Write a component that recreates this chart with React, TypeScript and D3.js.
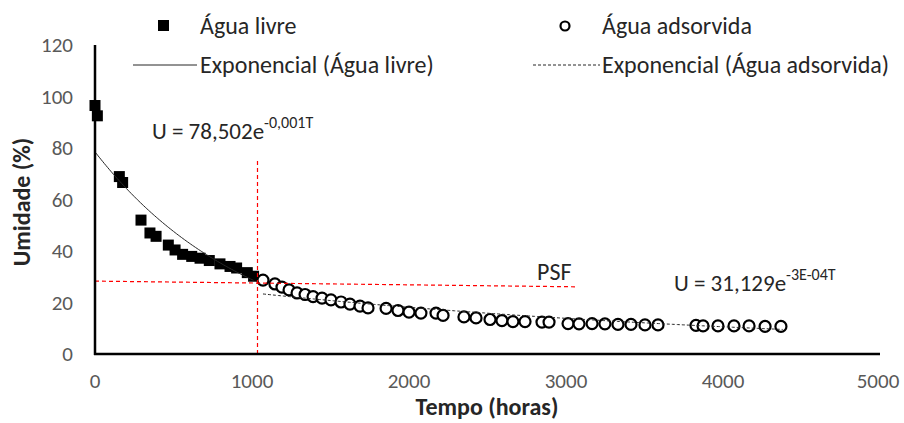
import React from "react";
import * as d3 from "d3";

const W = 904;
const H = 423;

// Água livre (squares)
const livreT = [0, 15, 155, 176, 293, 350, 389, 467, 510, 558, 616, 669, 728, 796, 860, 902, 970, 1010];
const livreU = [96.5, 92.5, 68.9, 66.6, 52.0, 47.0, 45.7, 42.3, 40.4, 38.7, 37.9, 37.2, 36.3, 35.0, 34.0, 33.4, 31.6, 30.2];

// Água adsorvida (open circles)
const adsT = [
  1070, 1146, 1191, 1236, 1287, 1338, 1389, 1446, 1503, 1567, 1624, 1688, 1739, 1854, 1930, 2000,
  2076, 2172, 2217, 2350, 2427, 2516, 2592, 2662, 2739, 2847, 2892, 3013, 3083, 3166, 3248, 3331,
  3414, 3503, 3586, 3828, 3873, 3968, 4070, 4166, 4268, 4369,
];
const adsU = [
  28.7, 27.2, 26.0, 24.9, 23.7, 23.1, 22.3, 21.7, 21.0, 20.2, 19.4, 18.6, 17.9, 17.7, 16.9, 16.3,
  15.9, 15.9, 15.0, 14.4, 14.0, 13.4, 13.0, 12.6, 12.6, 12.4, 12.4, 11.8, 11.7, 11.8, 11.7, 11.5,
  11.5, 11.3, 11.3, 11.1, 10.9, 10.9, 10.9, 10.9, 10.7, 10.7,
];

const xTicks = [0, 1000, 2000, 3000, 4000, 5000];
const yTicks = [0, 20, 40, 60, 80, 100, 120];

// trendlines (as shown on the chart)
const fitLivre = { a: 78.502, k: 0.001, from: 0, to: 1010 };
const fitAds = { a: 31.129, k: 0.00027, from: 1070, to: 4380 };

// PSF guide lines
const psfT = [0, 3060];
const psfU = [28.3, 26.1];
const psfVertT = 1035;
const psfVertU = [0, 75];

const FONT = "Calibri, Carlito, 'Open Sans', sans-serif";
const TXT = "#262626";

export default function App() {
  const x = d3.scaleLinear().domain([0, 5000]).range([95, 880]);
  const y = d3.scaleLinear().domain([0, 120]).range([354, 45]);

  const line = d3
    .line<[number, number]>()
    .x((d) => x(d[0]))
    .y((d) => y(d[1]));

  const curve = (f: { a: number; k: number; from: number; to: number }) =>
    line(d3.range(f.from, f.to + 1, 10).map((t) => [t, f.a * Math.exp(-f.k * t)] as [number, number]));

  const vx = Math.round(x(psfVertT)) + 0.5;

  return (
    <div style={{ position: "fixed", left: 0, top: 0, width: W, height: H, background: "#fff" }}>
      <svg width={W} height={H} style={{ display: "block" }} fontFamily={FONT}>
        {/* y tick labels */}
        {yTicks.map((t) => (
          <text key={t} x={73} y={y(t)} dy="0.35em" textAnchor="end" fontSize={21} fill="#595959">
            {t}
          </text>
        ))}
        {/* x tick labels */}
        {xTicks.map((t) => (
          <text key={t} x={t === 5000 ? x(t) - 2 : x(t)} y={381} dy="0.35em" textAnchor="middle" fontSize={21} fill="#595959">
            {t}
          </text>
        ))}

        {/* markers */}
        {livreT.map((t, i) => (
          <rect key={"l" + i} x={x(t) - 5.5} y={y(livreU[i]) - 5.5} width={11} height={11} fill="#000" />
        ))}
        {adsT.map((t, i) => (
          <circle key={"a" + i} cx={x(t)} cy={y(adsU[i])} r={5.5} fill="#fff" stroke="#000" strokeWidth={2.2} />
        ))}

        {/* trendlines */}
        <path d={curve(fitLivre) || ""} fill="none" stroke={TXT} strokeWidth={1} />
        <path d={curve(fitAds) || ""} fill="none" stroke={TXT} strokeWidth={1} strokeDasharray="3,2" />

        {/* PSF lines */}
        <line x1={x(psfT[0])} y1={y(psfU[0])} x2={x(psfT[1])} y2={y(psfU[1])} stroke="#ff0000" strokeWidth={1.2} strokeDasharray="4,3" />
        <line x1={vx} y1={y(psfVertU[0])} x2={vx} y2={y(psfVertU[1])} stroke="#ff0000" strokeWidth={1.2} strokeDasharray="4,3" />
        <text x={537} y={272} dy="0.35em" fontSize={24} fill={TXT}>PSF</text>

        {/* axes */}
        <line x1={95} y1={y(120)} x2={95} y2={355} stroke="#000" strokeWidth={2.5} />
        <line x1={94} y1={354} x2={880} y2={354} stroke="#000" strokeWidth={2.5} />

        {/* equations */}
        <text x={152} y={131} dy="0.35em" fontSize={23} fill={TXT}>
          U = 78,502e<tspan fontSize={16} dy="-0.7em">-0,001T</tspan>
        </text>
        <text x={674} y={283} dy="0.35em" fontSize={23} fill={TXT}>
          U = 31,129e<tspan fontSize={16} dy="-0.7em">-3E-04T</tspan>
        </text>

        {/* legend */}
        <rect x={158} y={20} width={11} height={11} fill="#000" />
        <text x={200} y={26} dy="0.35em" fontSize={24} fill={TXT}>Água livre</text>
        <circle cx={565} cy={26} r={4.5} fill="#fff" stroke="#000" strokeWidth={2.2} />
        <text x={602} y={26} dy="0.35em" fontSize={24} fill={TXT}>Água adsorvida</text>
        <line x1={133} y1={65} x2={197} y2={65} stroke={TXT} strokeWidth={1} />
        <text x={200} y={65} dy="0.35em" fontSize={24} fill={TXT}>Exponencial (Água livre)</text>
        <line x1={533} y1={65} x2={600} y2={65} stroke={TXT} strokeWidth={1} strokeDasharray="3,2" />
        <text x={602} y={65} dy="0.35em" fontSize={24} fill={TXT}>Exponencial (Água adsorvida)</text>

        {/* axis titles */}
        <text x={487} y={407} dy="0.35em" textAnchor="middle" fontSize={24} fontWeight="bold" fill={TXT}>
          Tempo (horas)
        </text>
        <text transform="translate(22,202) rotate(-90)" dy="0.35em" textAnchor="middle" fontSize={24} fontWeight="bold" fill={TXT}>
          Umidade (%)
        </text>
      </svg>
    </div>
  );
}
